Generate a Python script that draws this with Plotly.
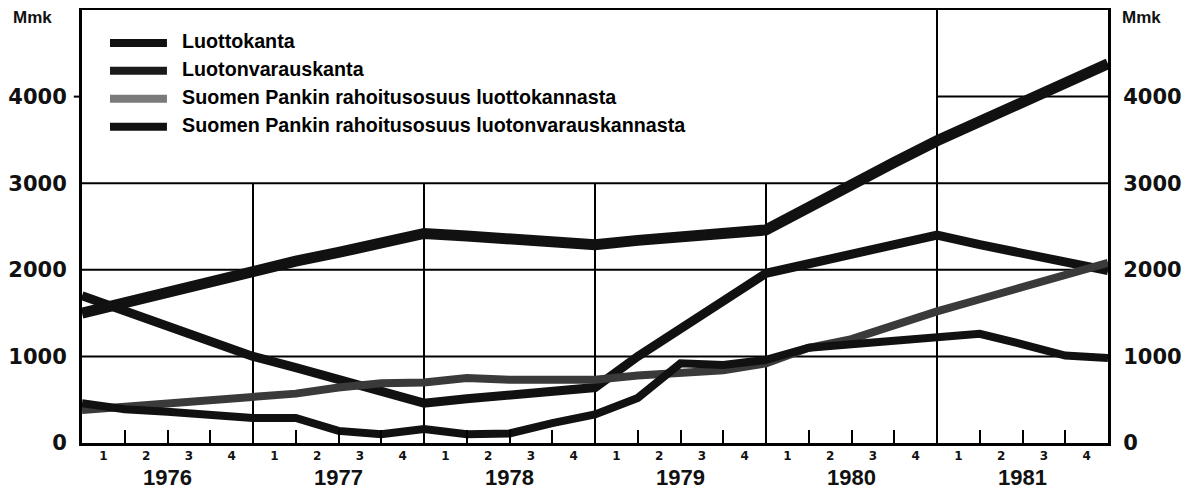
import plotly.graph_objects as go

# quarter ends, 0 = start of 1976, 24 = end of 1981
quarters = list(range(25))

luottokanta = [1500, 1620, 1750, 1880, 2000, 2100, 2200, 2300, 2420,
               2390, 2350, 2320, 2290, 2340, 2390, 2430, 2460,
               2720, 2990, 3240, 3490, 3720, 3940, 4160, 4380]
luotonvarauskanta = [1700, 1520, 1340, 1170, 1000, 870, 740, 600, 460,
                     510, 550, 590, 640, 1000, 1330, 1660, 1960,
                     2070, 2180, 2290, 2400, 2290, 2190, 2090, 1990]
sp_luottokanta = [380, 420, 470, 500, 540, 570, 640, 690, 700,
                  750, 730, 730, 730, 780, 800, 840, 920,
                  1100, 1200, 1370, 1520, 1660, 1800, 1950, 2080]
sp_luotonvaraus = [460, 390, 360, 320, 290, 290, 140, 100, 160,
                   100, 110, 230, 330, 520, 920, 900, 960,
                   1100, 1140, 1170, 1200, 1260, 1140, 1010, 980]

names = ["Luottokanta", "Luotonvarauskanta",
         "Suomen Pankin rahoitusosuus luottokannasta",
         "Suomen Pankin rahoitusosuus luotonvarauskannasta"]

years = ["1976", "1977", "1978", "1979", "1980", "1981"]
quarter_labels = ["1", "2", "3", "4"] * 6
y_ticks = [0, 1000, 2000, 3000, 4000]

series = [luottokanta, luotonvarauskanta, sp_luottokanta, sp_luotonvaraus]
colors = ["#111111", "#111111", "#3a3a3a", "#111111"]
legend_colors = ["#111111", "#1a1a1a", "#7a7a7a", "#111111"]
widths = [11, 9, 8, 8]

fig = go.Figure()
for name, ys, c, w in zip(names, series, colors, widths):
    fig.add_trace(go.Scatter(x=quarters, y=ys, mode="lines", name=name,
                             line=dict(color=c, width=w), showlegend=False))

# empty trace so the secondary axes (years, right scale) are drawn
fig.add_trace(go.Scatter(x=[], y=[], xaxis="x2", yaxis="y2", showlegend=False))

# grid (staircase, leaves room for the legend)
grid = dict(color="black", width=2)
for v in [1000, 2000, 3000]:
    fig.add_shape(type="line", x0=0, x1=24, y0=v, y1=v, line=grid, layer="below")
fig.add_shape(type="line", x0=20, x1=24, y0=4000, y1=4000, line=grid, layer="below")
for q in [4, 8, 12, 16]:
    fig.add_shape(type="line", x0=q, x1=q, y0=0, y1=3000, line=grid, layer="below")
fig.add_shape(type="line", x0=20, x1=20, y0=0, y1=5000, line=grid, layer="below")
# little outside tick at 4000 on the left
fig.add_shape(type="line", xref="paper", x0=-0.008, x1=0, y0=4000, y1=4000,
              line=grid)

# hand-made legend
for i, (name, c) in enumerate(zip(names, legend_colors)):
    yy = 0.924 - i * 0.0645
    fig.add_shape(type="line", xref="paper", yref="paper", x0=0.0273, x1=0.0828,
                  y0=yy, y1=yy, line=dict(color=c, width=8))
    fig.add_annotation(xref="paper", yref="paper", x=0.0955, y=yy + 0.004,
                       text=name, showarrow=False, xanchor="left", yanchor="middle",
                       font=dict(family="Liberation Sans", size=19.7, color="#000",
                                 weight="bold"))

for xx in [-0.048, 1.033]:
    fig.add_annotation(xref="paper", yref="paper", x=xx, y=0.982, text="Mmk",
                       showarrow=False, xanchor="center", yanchor="middle",
                       font=dict(family="Liberation Sans", size=17, color="#111",
                                 weight="bold"))

tick_font = dict(family="DejaVu Sans", size=21, color="#111", weight="bold")

# page has an 8px body margin, so the figure is 8px smaller than the window
fig.update_layout(
    width=1185, height=482,
    margin=dict(l=74, r=85, t=2, b=47),
    plot_bgcolor="white", paper_bgcolor="white",
    xaxis=dict(range=[0, 24], showgrid=False, zeroline=False, automargin=False,
               showline=True, linewidth=3, linecolor="black", mirror=True,
               tickmode="array", tickvals=[q + 0.5 for q in range(24)],
               ticktext=quarter_labels, ticks="",
               tickfont=dict(family="DejaVu Sans", size=12, color="#111", weight="bold"),
               minor=dict(tickmode="array",
                          tickvals=[q for q in range(1, 24) if q % 4],
                          ticks="inside", ticklen=13, tickwidth=2, tickcolor="black",
                          showgrid=False)),
    xaxis2=dict(range=[0, 24], overlaying="x", anchor="y", side="bottom",
                showgrid=False, zeroline=False, showline=False, automargin=False,
                tickmode="array", tickvals=[4 * i + 2 for i in range(6)],
                ticktext=years, ticks="outside", ticklen=15,
                tickcolor="rgba(0,0,0,0)",
                tickfont=dict(family="Liberation Sans", size=22, color="#111", weight="bold")),
    yaxis=dict(range=[0, 5000], showgrid=False, zeroline=False, automargin=False,
               showline=True, linewidth=3, linecolor="black",
               tickmode="array", tickvals=y_ticks, ticks="",
               ticklabelstandoff=8, tickfont=tick_font),
    yaxis2=dict(range=[0, 5000], overlaying="y", anchor="x", side="right",
                showgrid=False, zeroline=False, automargin=False,
                showline=True, linewidth=3, linecolor="black",
                tickmode="array", tickvals=y_ticks, ticks="",
                ticklabelstandoff=8, tickfont=tick_font),
)

fig.write_html("out.html")
